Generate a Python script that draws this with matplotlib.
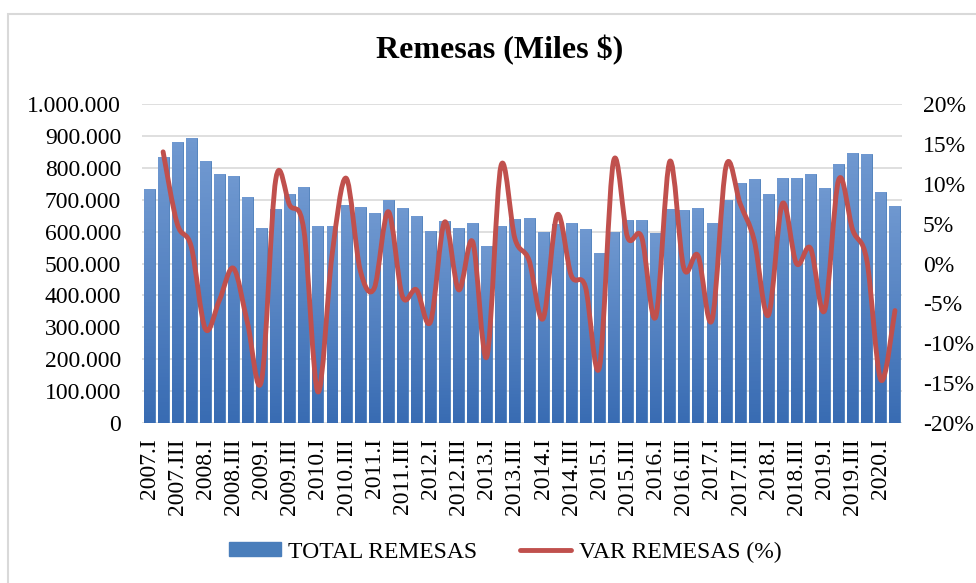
import numpy as np
import matplotlib
matplotlib.use('Agg')
import matplotlib.pyplot as plt
from matplotlib.path import Path
from matplotlib.patches import PathPatch, Rectangle, Patch
from matplotlib.lines import Line2D
from matplotlib.ticker import FuncFormatter, MultipleLocator

plt.rcParams['font.family'] = ['Liberation Serif', 'DejaVu Serif']

# quarters 2007.I .. 2020.II
years = list(range(2007, 2021))
roman = ['I', 'II', 'III', 'IV']
quarters = [f'{y}.{q}' for y in years for q in roman][:54]

total_remesas = [
    732000, 835000, 880000, 892000, 822000, 781000, 775000, 709000,
    611000, 672000, 719000, 741000, 619000, 617000, 682000, 678000,
    657000, 700000, 673000, 649000, 603000, 632000, 612000, 627000,
    554000, 618000, 640000, 643000, 599000, 625000, 626000, 609000,
    532000, 598000, 637000, 637000, 596000, 671000, 667000, 673000,
    627000, 700000, 753000, 764000, 717000, 768000, 769000, 780000,
    737000, 811000, 846000, 844000, 723000, 679000,
]

# quarterly variation, starts at 2007.II
var_remesas = [
    14.0, 5.0, 2.1, -8.2, -4.6, -0.6, -7.5,
    -14.6, 10.5, 7.3, 4.2, -16.1, 1.0, 10.7, -0.8,
    -3.1, 6.5, -4.1, -3.3, -7.3, 5.2, -3.3, 2.7,
    -11.7, 12.2, 3.1, 0.4, -6.9, 6.1, -1.5, -2.9,
    -13.0, 12.8, 3.3, 3.3, -6.7, 12.8, -0.6, 1.0,
    -7.1, 12.2, 7.5, 2.9, -6.5, 7.5, 0.0, 1.9,
    -5.9, 10.5, 4.2, 0.4, -14.6, -5.9,
]

BLUE_TOP = np.array([0x6f, 0x98, 0xd0]) / 255
BLUE_BOT = np.array([0x39, 0x6c, 0xb3]) / 255
RED = '#c0504d'
GRID = '#d9d9d9'
FS = 17


def smooth_path(x, y):
    # excel-like smoothed line (catmull-rom -> bezier)
    pts = np.column_stack([x, y]).astype(float)
    n = len(pts)
    verts = [pts[0]]
    codes = [Path.MOVETO]
    for i in range(n - 1):
        p0 = pts[max(i - 1, 0)]
        p1 = pts[i]
        p2 = pts[i + 1]
        p3 = pts[min(i + 2, n - 1)]
        c1 = p1 + (p2 - p0) / 6
        c2 = p2 - (p3 - p1) / 6
        verts += [c1, c2, p2]
        codes += [Path.CURVE4] * 3
    return Path(verts, codes)


fig = plt.figure(figsize=(9.76, 5.83), dpi=100)
fig.patches.append(Rectangle((8 / 976, -0.05), 1.1, 1 - 14 / 583 + 0.05,
                             transform=fig.transFigure, fill=False,
                             edgecolor='#d9d9d9', lw=1.5))

# axes box: x 142..902 px, y 104..423 px
ax = fig.add_axes([142 / 976, 1 - 423 / 583, 760 / 976, 319 / 583])
x = np.arange(len(quarters))

bars = ax.bar(x, total_remesas, width=0.78, color=BLUE_BOT, edgecolor='#4a7ebb',
              linewidth=0.6, zorder=2)
grad = np.linspace(0, 1, 64)[:, None, None]
img = BLUE_BOT * (1 - grad) + BLUE_TOP * grad
for b in bars:
    x0, w, h = b.get_x(), b.get_width(), b.get_height()
    im = ax.imshow(img, extent=[x0, x0 + w, 0, h], origin='lower', aspect='auto', zorder=2.1)
    im.set_clip_path(b)

ax.set_xlim(-0.5, len(quarters) - 0.5)
ax.set_ylim(0, 1000000)
ax.yaxis.set_major_locator(MultipleLocator(100000))
ax.yaxis.set_major_formatter(FuncFormatter(lambda v, p: f'{v:,.0f}'.replace(',', '.')))
ax.grid(axis='y', color=GRID, lw=1.2, zorder=0)
ax.set_axisbelow(True)
for s in ax.spines.values():
    s.set_visible(False)
ax.set_xticks(x[::2])
ax.set_xticklabels(quarters[::2], rotation=90)
ax.tick_params(length=0, labelsize=FS)
ax.tick_params(axis='y', pad=15)
ax.tick_params(axis='x', pad=11)

ax2 = ax.twinx()
ax2.set_ylim(-20, 20)
ax2.yaxis.set_major_locator(MultipleLocator(5))
ax2.yaxis.set_major_formatter(FuncFormatter(lambda v, p: f'{v:.0f}%'))
ax2.tick_params(length=0, labelsize=FS, pad=15)
for s in ax2.spines.values():
    s.set_visible(False)
ax2.add_patch(PathPatch(smooth_path(x[1:], var_remesas), fill=False, edgecolor=RED,
                        lw=3.5, capstyle='round', joinstyle='round', zorder=3))

fig.text(0.512, 1 - 50 / 583, 'Remesas (Miles $)', ha='center', va='center',
         fontsize=23, fontweight='bold')

handles = [Patch(facecolor='#4a7ebb', edgecolor='#4a7ebb'),
           Line2D([0], [0], color=RED, lw=3.5, solid_capstyle='round')]
fig.legend(handles, ['TOTAL REMESAS', 'VAR REMESAS (%)'], loc='center',
           bbox_to_anchor=(505 / 976, 1 - 552 / 583), ncol=2, frameon=False, fontsize=FS,
           handlelength=2.2, handleheight=0.55, columnspacing=1.8, handletextpad=0.3)

fig.savefig('out.png', dpi=100)
